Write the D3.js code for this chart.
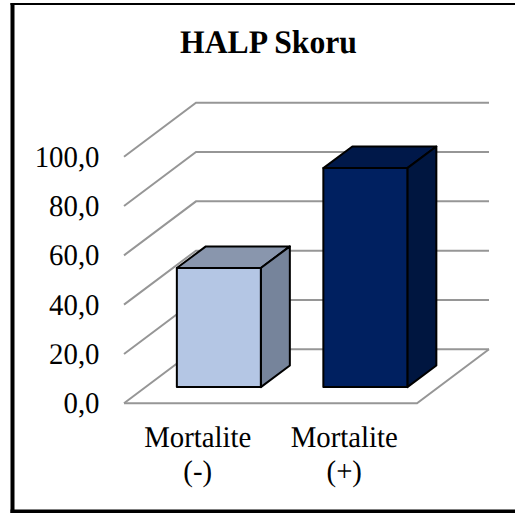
<!DOCTYPE html>
<html><head><meta charset="utf-8">
<style>html,body{margin:0;padding:0;background:#fff}svg{display:block}text{font-family:"Liberation Serif","Times New Roman",serif;fill:#000;text-rendering:geometricPrecision}</style>
<script src="https://cdn.jsdelivr.net/npm/d3@7/dist/d3.min.js"></script>
</head><body><script>
const title = "HALP Skoru";
const categories = ["Mortalite (-)", "Mortalite (+)"];
const categoryLines = [["Mortalite", "(-)"], ["Mortalite", "(+)"]];
const values = [48.3, 88.8];
const ticks = [0, 20, 40, 60, 80, 100];
const frontColors = ["#b4c6e4", "#002060"];
const topColors = ["#8996ad", "#001849"];
const sideColors = ["#76849b", "#001640"];

const W = 515, H = 513;
const depthX = 72, depthY = 54, barDepth = 0.3;
const squeeze = 0.96;
const svg = d3.select("body").append("svg").attr("width", W).attr("height", H);

const x = d3.scaleBand().domain(categories).range([124, 417]);
const y = d3.scaleLinear().domain([0, 100]).range([403.3, 156.7]);
const barW = 84;
const fmt = v => v.toFixed(1).replace(".", ",");
const place = (px, py) => `translate(${px},${py}) scale(${squeeze},1)`;

// frame: left, top and bottom edges only
svg.append("rect").attr("x", 10.5).attr("y", 3).attr("width", 4).attr("height", 510).attr("fill", "#000");
svg.append("rect").attr("x", 10.5).attr("y", 3).attr("width", 504.5).attr("height", 2).attr("fill", "#000");
svg.append("rect").attr("x", 10.5).attr("y", 509.5).attr("width", 504.5).attr("height", 3.5).attr("fill", "#000");

svg.append("text").attr("transform", place(268.5, 53)).attr("text-anchor", "middle")
  .attr("font-size", 33).attr("font-weight", "bold").text(title);

const gridColor = "#969696";
const grid = svg.append("g").attr("fill", "none").attr("stroke", gridColor).attr("stroke-width", 2);
const line = d3.line();
ticks.forEach(t => {
  grid.append("path").attr("d", line([
    [x.range()[0], y(t)],
    [x.range()[0] + depthX, y(t) - depthY],
    [x.range()[1] + depthX, y(t) - depthY]
  ]));
});
grid.append("path").attr("d", line([
  [x.range()[0], y(0)], [x.range()[1], y(0)], [x.range()[1] + depthX, y(0) - depthY]
]));

svg.append("g").selectAll("text").data(ticks).join("text")
  .attr("transform", d => place(99.5, y(d) + 10)).attr("text-anchor", "end")
  .attr("font-size", 30).text(fmt);

const bars = svg.append("g").attr("stroke", "#000").attr("stroke-width", 2).attr("stroke-linejoin", "round");
categories.forEach((c, i) => {
  const dx = depthX * barDepth, dy = depthY * barDepth;
  const x0 = x(c) + x.bandwidth() / 2 + dx - barW / 2, x1 = x0 + barW;
  const base = y(0) - dy, top = base - (y(0) - y(values[i]));
  const d2x = 29, d2y = 21.6;
  bars.append("path").attr("fill", topColors[i]).attr("d", line([[x0, top], [x0 + d2x, top - d2y], [x1 + d2x, top - d2y], [x1, top]]) + "Z");
  bars.append("path").attr("fill", sideColors[i]).attr("d", line([[x1, top], [x1 + d2x, top - d2y], [x1 + d2x, base - d2y], [x1, base]]) + "Z");
  bars.append("path").attr("fill", frontColors[i]).attr("d", line([[x0, top], [x1, top], [x1, base], [x0, base]]) + "Z");
});

const labels = svg.append("g").attr("text-anchor", "middle").attr("font-size", 30);
categories.forEach((c, i) => {
  categoryLines[i].forEach((s, j) => {
    labels.append("text").attr("transform", place(x(c) + x.bandwidth() / 2 + 0.5, 447 + j * 34)).text(s);
  });
});
</script></body></html>
